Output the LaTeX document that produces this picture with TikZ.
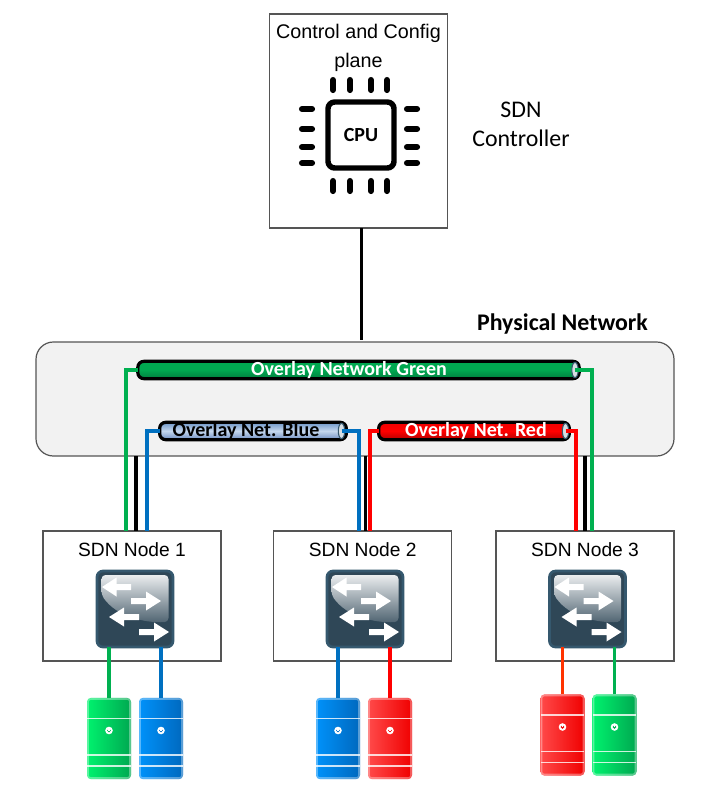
\documentclass[tikz,border=0pt]{standalone}
\usepackage{fontspec}
\setmainfont{Liberation Sans}
\newfontfamily\calibri{Carlito}
\usetikzlibrary{positioning,shapes.geometric}
\definecolor{netgreen}{HTML}{00B050}
\definecolor{netblue}{HTML}{0070C0}
\definecolor{netred}{HTML}{FF0000}
\definecolor{netorange}{HTML}{FF3300}
\definecolor{boxline}{HTML}{555555}
\definecolor{swdark}{HTML}{2F4757}
\definecolor{swedge}{HTML}{35586E}
\definecolor{greenhi}{HTML}{00F26E}
\definecolor{greenlo}{HTML}{00A850}
\definecolor{bluehi}{HTML}{0092FA}
\definecolor{bluelo}{HTML}{0068BE}
\definecolor{redhi}{HTML}{FF4A4A}
\definecolor{redlo}{HTML}{F00000}
\definecolor{pipegreena}{HTML}{00A850}
\definecolor{pipegreenb}{HTML}{007E3E}
\definecolor{pipebluea}{HTML}{6E96C8}
\definecolor{pipeblueb}{HTML}{C4D6EC}
\definecolor{pipebluec}{HTML}{6F8FC2}
\definecolor{pipereda}{HTML}{F00000}
\definecolor{piperedb}{HTML}{B40000}
\tikzset{
    box/.style={draw=boxline, line width=0.9pt, fill=white, inner sep=0pt, outer sep=0pt},
    title/.style={inner sep=0pt, align=center, font=\fontsize{14.4}{21.7}\selectfont},
    side/.style={inner sep=0pt, align=center, font=\calibri\fontsize{17.9}{21.7}\selectfont},
    chip/.style={draw=black, line width=4.1pt, rounded corners=5pt, minimum size=49.5pt, inner sep=0pt, outer sep=0pt, font=\calibri\bfseries\fontsize{15}{16}\selectfont},
    pin/.style={line width=4.6pt, line cap=round},
    pipe/.style={draw=black, line width=2.4pt, rounded corners=4.5pt, minimum height=13pt, inner sep=0pt, outer sep=0pt},
    pipeend/.style={ellipse, draw=#1, fill=white!80!#1, line width=0.8pt, minimum width=4.8pt, minimum height=11.5pt, inner sep=0pt},
    pipetext/.style={inner sep=0pt, font=\calibri\bfseries\fontsize{15}{16}\selectfont},
    wire/.style={line width=2.4pt},
    uplink/.style={line width=2.3pt, draw=black},
    switchbox/.style={draw=swedge, fill=swdark, line width=2pt, rounded corners=4.5pt, minimum size=57pt, inner sep=0pt, outer sep=0pt,
        path picture={
            \begin{scope}[shift={(path picture bounding box.center)}, sharp corners]
            \shade[top color=white!90!swdark, bottom color=swdark!85!white, rounded corners=3pt]
                (-33.5,-14) -- (-33.5,-34) -- (33.5,-34) -- (33.5,13) .. controls (10,14) and (-18,8) .. cycle;
            \foreach \tip/\tail/\y in {-33/-4/-22, 26/-4/-8, -26/4/8, 34/4/23}
                \fill[white] (\tail,\y-3) -- ({\tip-(\tip-\tail)/2},\y-3) -- ({\tip-(\tip-\tail)/2},\y-9.5) -- (\tip,\y) -- ({\tip-(\tip-\tail)/2},\y+9.5) -- ({\tip-(\tip-\tail)/2},\y+3) -- (\tail,\y+3) -- cycle;
            \end{scope}
        }},
    server/.style n args={2}{left color=#1, right color=#2, rounded corners=3pt, minimum width=33pt, minimum height=61pt, inner sep=0pt, outer sep=0pt,
        path picture={
            \begin{scope}[shift={(path picture bounding box.center)}, sharp corners]
            \draw[white, opacity=.35, line width=1.2pt, rounded corners=2pt] (-21,-39.5) rectangle (21,39.5);
            \foreach \y in {-20,16.5,27.5}
                \draw[white, opacity=.8, line width=1.1pt] (-22,\y) -- (22,\y);
            \fill[white] (0,-8) circle (3.8);
            \fill[#2] (0,-8) circle (1.8);
            \draw[white, line width=0.9pt] (0,-11) -- (0,-8);
            \end{scope}
        }},
    greensrv/.style={server={greenhi}{greenlo}},
    bluesrv/.style={server={bluehi}{bluelo}},
    redsrv/.style={server={redhi}{redlo}},
}
\begin{document}
\begin{tikzpicture}[x=0.75pt, y=-0.75pt]
    \useasboundingbox (0,0) rectangle (714,800);

    % controller
    \node[box, minimum width=133.5pt, minimum height=160.5pt] (ctrl) at (358.5,121) {};
    \node[title, font=\fontsize{14.8}{21.7}\selectfont] (ctrltext) at (358.5,48) {Control and Config\\plane};
    \node[chip] (cpu) at (361,135) {\raisebox{-1.5pt}{CPU}};
    \foreach \x in {333,350,371,387} {
        \draw[pin] (\x,80) -- (\x,90);
        \draw[pin] (\x,181) -- (\x,191);
    }
    \foreach \y in {109,129,147,163} {
        \draw[pin] (302,\y) -- (312,\y);
        \draw[pin] (407,\y) -- (417,\y);
    }
    \node[side] (ctrlname) at (521,124.5) {SDN\\Controller};

    % physical network
    \node[box, fill=black!5, rounded corners=13pt, minimum width=478.5pt, minimum height=85.5pt] (phys) at (355,399) {};
    \node[side, font=\calibri\bfseries\fontsize{17.9}{20}\selectfont] (physname) at (562.5,324) {Physical Network};

    % sdn nodes
    \foreach \name/\x/\num in {nodea/132/1, nodeb/362.75/2, nodec/585/3} {
        \node[box, minimum width=133.5pt, minimum height=97.5pt] (\name) at (\x,596) {};
        \node[title] (\name text) at (\x,549.5) {SDN Node \num};
    }

    % free ends on top of the nodes
    \foreach \name/\x in {ga/126, ta/136, ba/147, bb/359, tb/365.5, rb/370, rc/576, tc/585, gc/592}
        \coordinate (\name) at (\x,531);
    \coordinate (up) at (361.5,339.5);

    \draw[uplink] (up |- ctrl.south) -- (up);
    \foreach \name in {ta,tb,tc}
        \draw[uplink] (\name |- phys.south) -- (\name);

    % overlay pipes
    \node[pipe, top color=pipegreena, bottom color=pipegreenb, middle color=pipegreena, minimum width=331pt] (pipegreen) at (358.5,370) {};
    \node[pipe, top color=pipebluea, bottom color=pipebluec, middle color=pipeblueb, minimum width=140pt] (pipeblue) at (253,431) {};
    \node[pipe, top color=pipereda, bottom color=piperedb, middle color=netred, minimum width=143pt] (pipered) at (474,431) {};
    \node[pipeend=swedge] (endgreen) at (575,370) {};
    \node[pipeend=swedge] (endblue) at (341.5,431) {};
    \node[pipeend=swedge] (endred) at (565.5,431) {};
    \node[pipetext, white] (greentext) at (349,370.5) {Overlay Network Green};
    \node[pipetext, black] (bluetext) at (246,431.5) {Overlay Net. Blue};
    \node[pipetext, white] (redtext) at (476,431.5) {Overlay Net. Red};

    \draw[wire, netgreen] (pipegreen.west) -| (ga);
    \draw[wire, netgreen] (endgreen.center) -| (gc);
    \draw[wire, netblue] (pipeblue.west) -| (ba);
    \draw[wire, netblue] (endblue.center) -| (bb);
    \draw[wire, netred] (pipered.west) -| (rb);
    \draw[wire, netred] (endred.center) -| (rc);

    % switches and servers
    \foreach \name/\x in {swa/135, swb/365, swc/587.5}
        \node[switchbox] (\name) at (\x,609) {};
    \foreach \name/\x/\y/\kind in {srva/109/738.5/greensrv, srvb/161/738.5/bluesrv, srvc/338/738.5/bluesrv, srvd/390/738.5/redsrv, srve/562.5/735/redsrv, srvf/614.5/735/greensrv}
        \node[\kind] (\name) at (\x,\y) {};
    \foreach \from/\to/\col in {srva/swa/netgreen, srvb/swa/netblue, srvc/swb/netblue, srvd/swb/netred, srve/swc/netorange, srvf/swc/netgreen}
        \draw[wire, \col] (\from.north) -- (\from.north |- \to.south);
\end{tikzpicture}
\end{document}
